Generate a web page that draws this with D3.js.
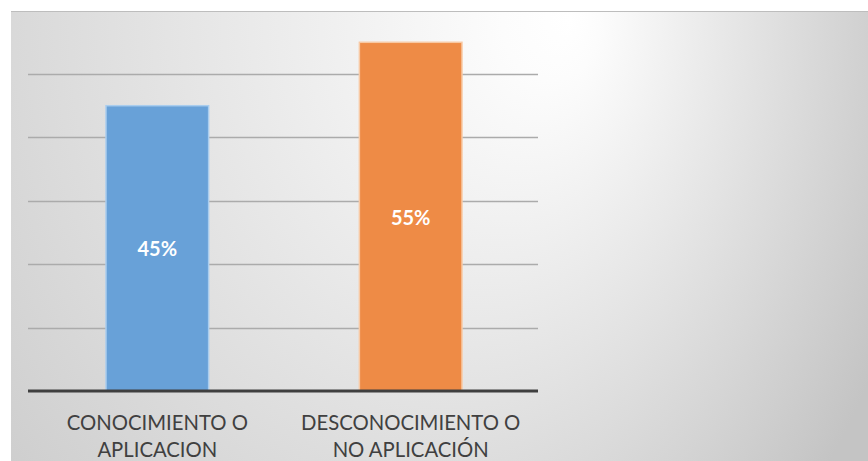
<!DOCTYPE html>
<html><head><meta charset="utf-8">
<script src="https://cdn.jsdelivr.net/npm/d3@7"></script>
<style>html,body{margin:0;padding:0;background:#fff;}svg{display:block;}</style>
</head><body>
<svg id="c" width="868" height="461"></svg>
<script>
const categories = [["CONOCIMIENTO O","APLICACION"],["DESCONOCIMIENTO O","NO APLICACIÓN"]];
const values = [45, 55];
const valueLabels = ["45%","55%"];
const colors = ["#68a1d8","#ee8b46"];
const yTicks = [0,10,20,30,40,50];

const svg = d3.select("#c");
const defs = svg.append("defs");
const g = defs.append("radialGradient").attr("id","bg")
  .attr("gradientUnits","userSpaceOnUse")
  .attr("cx",332).attr("cy",20).attr("r",610).attr("fx",570).attr("fy",20)
  .attr("gradientTransform","translate(0,20) scale(1,1.25) translate(0,-20)");
g.append("stop").attr("offset",0).attr("stop-color","#ffffff");
g.append("stop").attr("offset",0.08).attr("stop-color","#fcfcfc");
g.append("stop").attr("offset",1).attr("stop-color","#c4c4c4");

svg.append("rect").attr("x",11).attr("y",11).attr("width",857).attr("height",450).attr("fill","url(#bg)");
svg.append("line").attr("x1",11).attr("x2",868).attr("y1",11.5).attr("y2",11.5).attr("stroke","#bdbdbd").attr("stroke-width",1);

const x = d3.scaleBand().domain(d3.range(values.length)).range([30,538]).paddingInner(0.595).paddingOuter(0.3);
const y = d3.scaleLinear().domain([0,60]).range([391,10.6]);

// gridlines
svg.append("g").selectAll("line").data(yTicks.filter(d=>d>0)).join("line")
  .attr("x1",28).attr("x2",538).attr("y1",d=>Math.round(y(d))+0.5).attr("y2",d=>Math.round(y(d))+0.5)
  .attr("stroke","#ababab").attr("stroke-width",1.3);

// bars
svg.append("g").selectAll("rect").data(values).join("rect")
  .attr("x",(d,i)=>x(i)).attr("width",x.bandwidth())
  .attr("y",d=>y(d)).attr("height",d=>y(0)-y(d))
  .attr("fill",(d,i)=>colors[i])
  .attr("stroke",(d,i)=>i===0?"#a9cdee":"#f8c9a4").attr("stroke-width",1.5);

// baseline
svg.append("line").attr("x1",28).attr("x2",538).attr("y1",y(0)).attr("y2",y(0)).attr("stroke","#3f3f3f").attr("stroke-width",3);

// value labels
svg.append("g").selectAll("text").data(values).join("text")
  .attr("x",(d,i)=>x(i)+x.bandwidth()/2).attr("y",d=>(y(d)+y(0))/2)
  .attr("text-anchor","middle").attr("dominant-baseline","central")
  .attr("font-family","Lato, 'Open Sans', sans-serif").attr("font-weight","bold").attr("font-size",20)
  .attr("fill","#ffffff").text((d,i)=>valueLabels[i]);

// category labels
const cl = svg.append("g").selectAll("text").data(categories).join("text")
  .attr("x",(d,i)=>x(i)+x.bandwidth()/2).attr("y",430)
  .attr("text-anchor","middle")
  .attr("font-family","Lato, 'Open Sans', sans-serif").attr("font-size",20.3).attr("fill","#404040");
cl.selectAll("tspan").data(d=>d).join("tspan")
  .attr("x",function(){return this.parentNode.getAttribute("x");})
  .attr("dy",(d,i)=>i===0?0:27).text(d=>d);
</script>
</body></html>
